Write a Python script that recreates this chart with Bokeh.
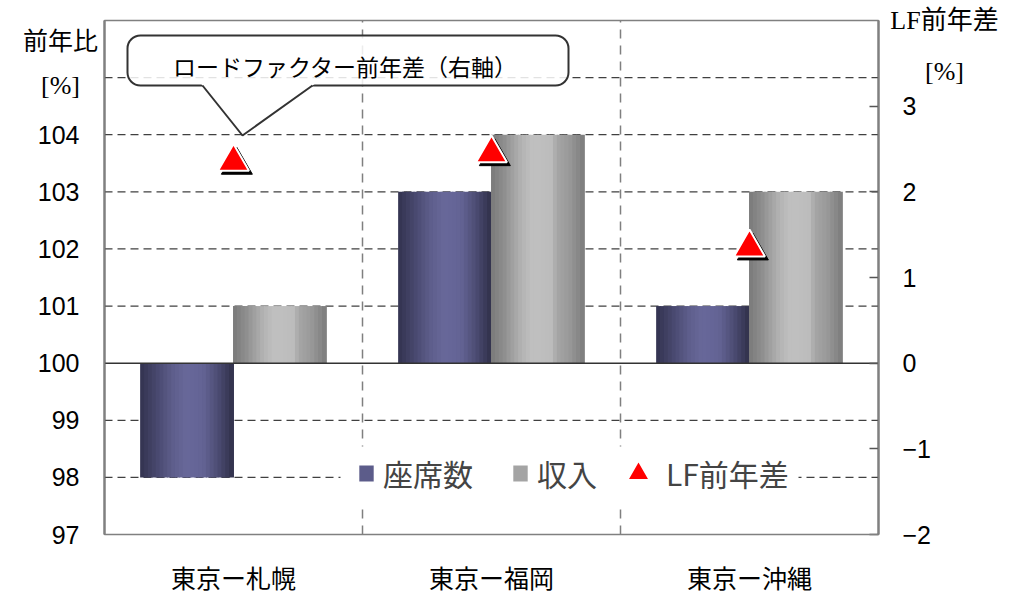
from bokeh.plotting import figure
from bokeh.models import (Range1d, LinearAxis, FixedTicker, Label, BoxAnnotation, Legend,
                          LegendItem, ColumnDataSource, CustomJSTickFormatter)
from bokeh.transform import dodge
from bokeh.embed import file_html
from bokeh.resources import INLINE

# ---------------- data ----------------
categories = ["東京ー札幌", "東京ー福岡", "東京ー沖縄"]
seats = [98, 103, 101]          # 座席数 前年比 [%]
revenue = [101, 104, 103]       # 収入 前年比 [%]
lf_diff = [2.35, 2.45, 1.35]    # LF前年差 [%] (right axis)
left_ticks = [97, 98, 99, 100, 101, 102, 103, 104]
right_ticks = [-2, -1, 0, 1, 2, 3]
grid_levels = [98, 99, 101, 102, 103, 104, 105]
BASE = 100
LEFT_LIM = (97, 106)
RIGHT_LIM = (-2, 4)

# ---------------- layout (pixels) ----------------
W, H = 1020, 593
PL, PR, PT, PB = 104, 878, 20, 534   # plot box in canvas pixels

JP = "Noto Sans CJK JP"
SANS = "Liberation Sans"
SERIF = "Liberation Serif"

ncat = len(categories)
xu = (PR - PL) / ncat
x_start = -PL / xu
x_end = x_start + W / xu


def yr(lim):
    u = (PB - PT) / (lim[1] - lim[0])
    top = lim[1] + PT / u
    return top - H / u, top


def px_x(px):
    return x_start + px / xu


def px_y(py):
    u = (PB - PT) / (LEFT_LIM[1] - LEFT_LIM[0])
    return LEFT_LIM[1] - (py - PT) / u


SEAT_STOPS = [(0, (0x33, 0x33, 0x4f)), (0.15, (0x44, 0x44, 0x69)), (0.35, (0x5e, 0x5e, 0x8c)),
              (0.5, (0x68, 0x68, 0x9a)), (0.68, (0x63, 0x63, 0x94)), (0.85, (0x4a, 0x4a, 0x70)),
              (1, (0x30, 0x30, 0x4a))]
REV_STOPS = [(0, (0x7a, 0x7a, 0x7a)), (0.15, (0x90, 0x90, 0x90)), (0.33, (0xb4, 0xb4, 0xb4)),
             (0.45, (0xc0, 0xc0, 0xc0)), (0.66, (0xbc, 0xbc, 0xbc)), (0.7, (0xa7, 0xa7, 0xa7)),
             (0.85, (0x98, 0x98, 0x98)), (1, (0x7c, 0x7c, 0x7c))]


def interp(stops, t):
    for (t0, c0), (t1, c1) in zip(stops[:-1], stops[1:]):
        if t0 <= t <= t1:
            f = (t - t0) / (t1 - t0)
            c = [round(a + (b - a) * f) for a, b in zip(c0, c1)]
            return "#%02x%02x%02x" % tuple(c)
    return "#%02x%02x%02x" % stops[-1][1]


cat_x = [i + 0.5 for i in range(ncat)]
source = ColumnDataSource(dict(x=cat_x, cat=categories, seats=seats, revenue=revenue,
                               base=[BASE] * ncat, lf=lf_diff))

yl0, yl1 = yr(LEFT_LIM)
yr0, yr1 = yr(RIGHT_LIM)
p = figure(width=W, height=H, x_range=Range1d(x_start, x_end), y_range=Range1d(yl0, yl1),
           x_axis_type=None, y_axis_type=None, output_backend="svg", toolbar_location=None,
           min_border=0)
p.title.visible = False
p.extra_y_ranges = {"lf": Range1d(yr0, yr1)}
p.background_fill_color = "white"
p.border_fill_color = "white"
p.outline_line_color = None

# horizontal dashed grid (left-axis levels) and category separators
p.segment(x0=0, x1=ncat, y0=grid_levels, y1=grid_levels, line_color="#404040",
          line_dash="8 5", line_width=1.2)
seps = list(range(1, ncat))
p.segment(x0=seps, x1=seps, y0=LEFT_LIM[0], y1=LEFT_LIM[1], line_color="#7f7f7f",
          line_dash="9 7", line_width=1.5)

# bars drawn as vertical gradient strips
N = 24
BW = 0.36
legend_r = {}
for field, center, stops in [("seats", -BW / 2, SEAT_STOPS), ("revenue", BW / 2, REV_STOPS)]:
    for i in range(N):
        t = (i + 0.5) / N
        off = center - BW / 2 + t * BW
        r = p.vbar(x=dodge("x", off), width=BW / N * 1.25, top=field, bottom="base",
                   source=source, fill_color=interp(stops, t), line_color=None)
        if i == int(N * 0.72):
            legend_r[field] = r

# baseline at 100
p.segment(x0=0, x1=ncat, y0=BASE, y1=BASE, line_color="#333333", line_width=1.5)

# LF markers with shadow
p.scatter(x=dodge("x", 0.013), y=dodge("lf", -0.04), marker="triangle", size=31,
          fill_color="black", line_color="black", source=source, y_range_name="lf")
tri = p.scatter(x="x", y="lf", marker="triangle", size=31, fill_color="red",
                line_color="white", line_width=2, source=source, y_range_name="lf")

# plot box
p.add_layout(BoxAnnotation(left=0, right=ncat, bottom=LEFT_LIM[0], top=LEFT_LIM[1],
                           fill_color=None, line_color="#808080", line_alpha=1,
                           line_width=1.5))

# axes
la = LinearAxis(fixed_location=0, bounds=LEFT_LIM, ticker=FixedTicker(ticks=left_ticks))
la.major_label_text_font = SANS
la.major_label_text_font_size = "25px"
la.major_label_text_color = "black"
la.major_tick_in = 0
la.major_tick_out = 0
la.minor_tick_line_color = None
la.axis_line_color = "#555555"
la.axis_line_width = 2
la.major_label_standoff = 25
p.add_layout(la, "left")

ra = LinearAxis(y_range_name="lf", fixed_location=ncat, bounds=RIGHT_LIM,
                ticker=FixedTicker(ticks=right_ticks),
                formatter=CustomJSTickFormatter(
                    code="return tick < 0 ? '\u2212' + Math.abs(tick) : String(tick)"))
ra.major_label_text_font = SANS
ra.major_label_text_font_size = "25px"
ra.major_label_text_color = "black"
ra.major_tick_in = 9
ra.major_tick_out = 0
ra.major_tick_line_color = "#555555"
ra.major_tick_line_width = 1.5
ra.minor_tick_line_color = None
ra.axis_line_color = "#555555"
ra.axis_line_width = 2
ra.major_label_standoff = 24
p.add_layout(ra, "right")

xa = LinearAxis(fixed_location=LEFT_LIM[0], ticker=FixedTicker(ticks=cat_x),
                formatter=CustomJSTickFormatter(args=dict(labels=categories),
                                                code="return labels[Math.floor(tick)]"))
xa.axis_line_color = None
xa.major_tick_line_color = None
xa.minor_tick_line_color = None
xa.major_label_text_font = JP
xa.major_label_text_font_size = "25px"
xa.major_label_text_color = "black"
xa.major_label_standoff = 18
p.add_layout(xa, "below")

# axis titles
for txt, px, py, font, size in [("前年比", 60, 38, JP, "25px"),
                                ("[%]", 60, 85, SERIF, "26px"),
                                ("LF前年差", 944, 20, SERIF + ", " + JP, "26px"),
                                ("[%]", 944, 71, SERIF, "26px")]:
    p.add_layout(Label(x=px_x(px), y=px_y(py), text=txt, text_font=font, text_font_size=size,
                       text_align="center", text_baseline="middle", text_color="black"))

# callout bubble
p.add_layout(BoxAnnotation(left=px_x(127), right=px_x(568), top=px_y(35), bottom=px_y(85),
                           fill_color="white", fill_alpha=0.85, line_color="#333333",
                           line_alpha=1, line_width=2, border_radius=13))
p.add_layout(Label(x=px_x(345), y=px_y(65), text="ロードファクター前年差（右軸）",
                   text_font=JP, text_font_size="23px", text_align="center",
                   text_baseline="middle", text_color="black"))
tipx, tipy = px_x(242), px_y(135)
bl, br, by = px_x(202), px_x(312), px_y(85)
ext = px_y(82) - by
k = ext / (by - tipy)
pl = p.patch([bl - (tipx - bl) * k, tipx, br + (br - tipx) * k],
             [by + ext, tipy, by + ext], fill_color="white", line_color=None)
pl.level = "overlay"
ln = p.line([bl, tipx, br], [by, tipy, by], line_color="#333333", line_width=2)
ln.level = "overlay"

# legend
p.add_layout(BoxAnnotation(left=px_x(340), right=px_x(798), top=px_y(446), bottom=px_y(504),
                           fill_color="white", fill_alpha=1, line_color=None))
common = dict(orientation="horizontal", padding=0, margin=0, border_line_color=None,
              background_fill_alpha=0, label_text_font=JP, label_text_font_size="30px",
              label_height=46)
leg1 = Legend(items=[LegendItem(label="座席数", renderers=[legend_r["seats"]]),
                     LegendItem(label="収入", renderers=[legend_r["revenue"]])],
              location=(357, H - 496), glyph_width=18, glyph_height=20, label_standoff=8,
              spacing=38, **common)
leg2 = Legend(items=[LegendItem(label="LF前年差", renderers=[tri])],
              location=(610, H - 501), glyph_width=56, glyph_height=56, label_standoff=0,
              **common)
p.add_layout(leg1)
p.add_layout(leg2)

open("out.html", "w").write(file_html(p, INLINE))
